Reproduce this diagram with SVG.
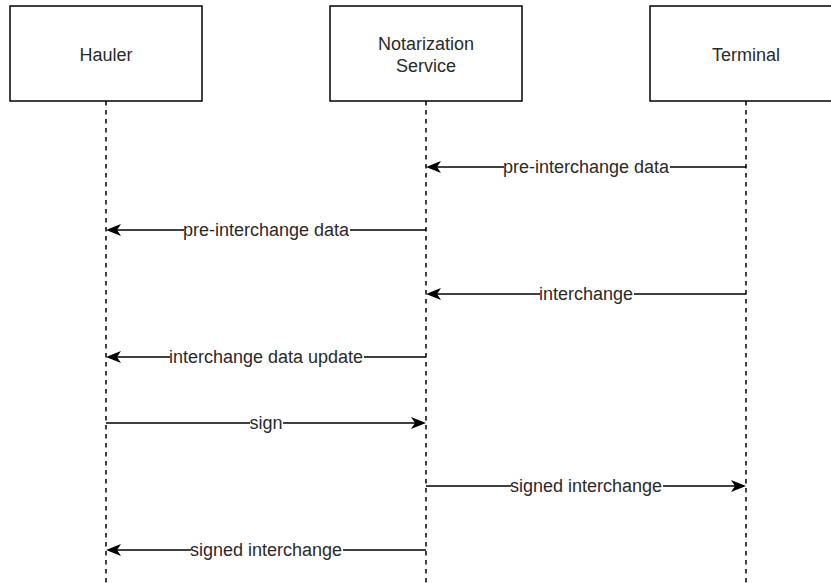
<svg xmlns="http://www.w3.org/2000/svg" width="831" height="583" viewBox="0 0 831 583">
  <style>
    .actor { fill: #ffffff; stroke: #000000; stroke-width: 1.5; }
    .name { font-family: "Liberation Sans", Arial, Helvetica, sans-serif; font-size: 18px; fill: #2a2a2a; text-anchor: middle; }
    .lifeline { stroke: #000000; stroke-width: 1.5; stroke-dasharray: 4.5 4.5; fill: none; }
    .msg { stroke: #000000; stroke-width: 1.5; fill: none; marker-end: url(#arrow); }
    .lblbg { fill: #ffffff; }
    .lbl { font-family: "Liberation Sans", Arial, Helvetica, sans-serif; font-size: 18px; fill: #2a2a2a; text-anchor: middle; }
  </style>
  <defs>
    <marker id="arrow" markerUnits="userSpaceOnUse" viewBox="0 0 15 12" refX="9" refY="6" markerWidth="15" markerHeight="12" orient="auto">
      <path d="M15,6 L0,0 L4,6 L0,12 Z" fill="#000000"/>
    </marker>
  </defs>

  <rect width="831" height="583" fill="#ffffff"/>

  <!-- participants -->
  <g id="hauler">
    <line class="lifeline" x1="106" y1="101" x2="106" y2="583"/>
    <rect class="actor" x="10" y="6" width="192" height="95"/>
    <text class="name" x="106" y="61">Hauler</text>
  </g>
  <g id="notarization-service">
    <line class="lifeline" x1="426" y1="101" x2="426" y2="583"/>
    <rect class="actor" x="330" y="6" width="192" height="95"/>
    <text class="name" x="426" y="50">Notarization</text>
    <text class="name" x="426" y="72">Service</text>
  </g>
  <g id="terminal">
    <line class="lifeline" x1="746" y1="101" x2="746" y2="583"/>
    <rect class="actor" x="650" y="6" width="192" height="95"/>
    <text class="name" x="746" y="61">Terminal</text>
  </g>

  <!-- messages -->
  <g id="connectors">
    <line class="msg" x1="746" y1="167" x2="432" y2="167"/>
    <rect class="lblbg" x="504" y="157" width="166" height="20"/>
    <text class="lbl" x="586" y="173">pre-interchange data</text>

    <line class="msg" x1="426" y1="230" x2="112" y2="230"/>
    <rect class="lblbg" x="184" y="220" width="166" height="20"/>
    <text class="lbl" x="266" y="236">pre-interchange data</text>

    <line class="msg" x1="746" y1="294" x2="432" y2="294"/>
    <rect class="lblbg" x="540" y="284" width="94" height="20"/>
    <text class="lbl" x="586" y="300">interchange</text>

    <line class="msg" x1="426" y1="357" x2="112" y2="357"/>
    <rect class="lblbg" x="170" y="347" width="194" height="20"/>
    <text class="lbl" x="266" y="363">interchange data update</text>

    <line class="msg" x1="106" y1="423" x2="420" y2="423"/>
    <rect class="lblbg" x="250" y="413" width="33" height="20"/>
    <text class="lbl" x="266" y="429">sign</text>

    <line class="msg" x1="426" y1="486" x2="740" y2="486"/>
    <rect class="lblbg" x="511" y="476" width="152" height="20"/>
    <text class="lbl" x="586" y="492">signed interchange</text>

    <line class="msg" x1="426" y1="550" x2="112" y2="550"/>
    <rect class="lblbg" x="191" y="540" width="152" height="20"/>
    <text class="lbl" x="266" y="556">signed interchange</text>
  </g>
</svg>
